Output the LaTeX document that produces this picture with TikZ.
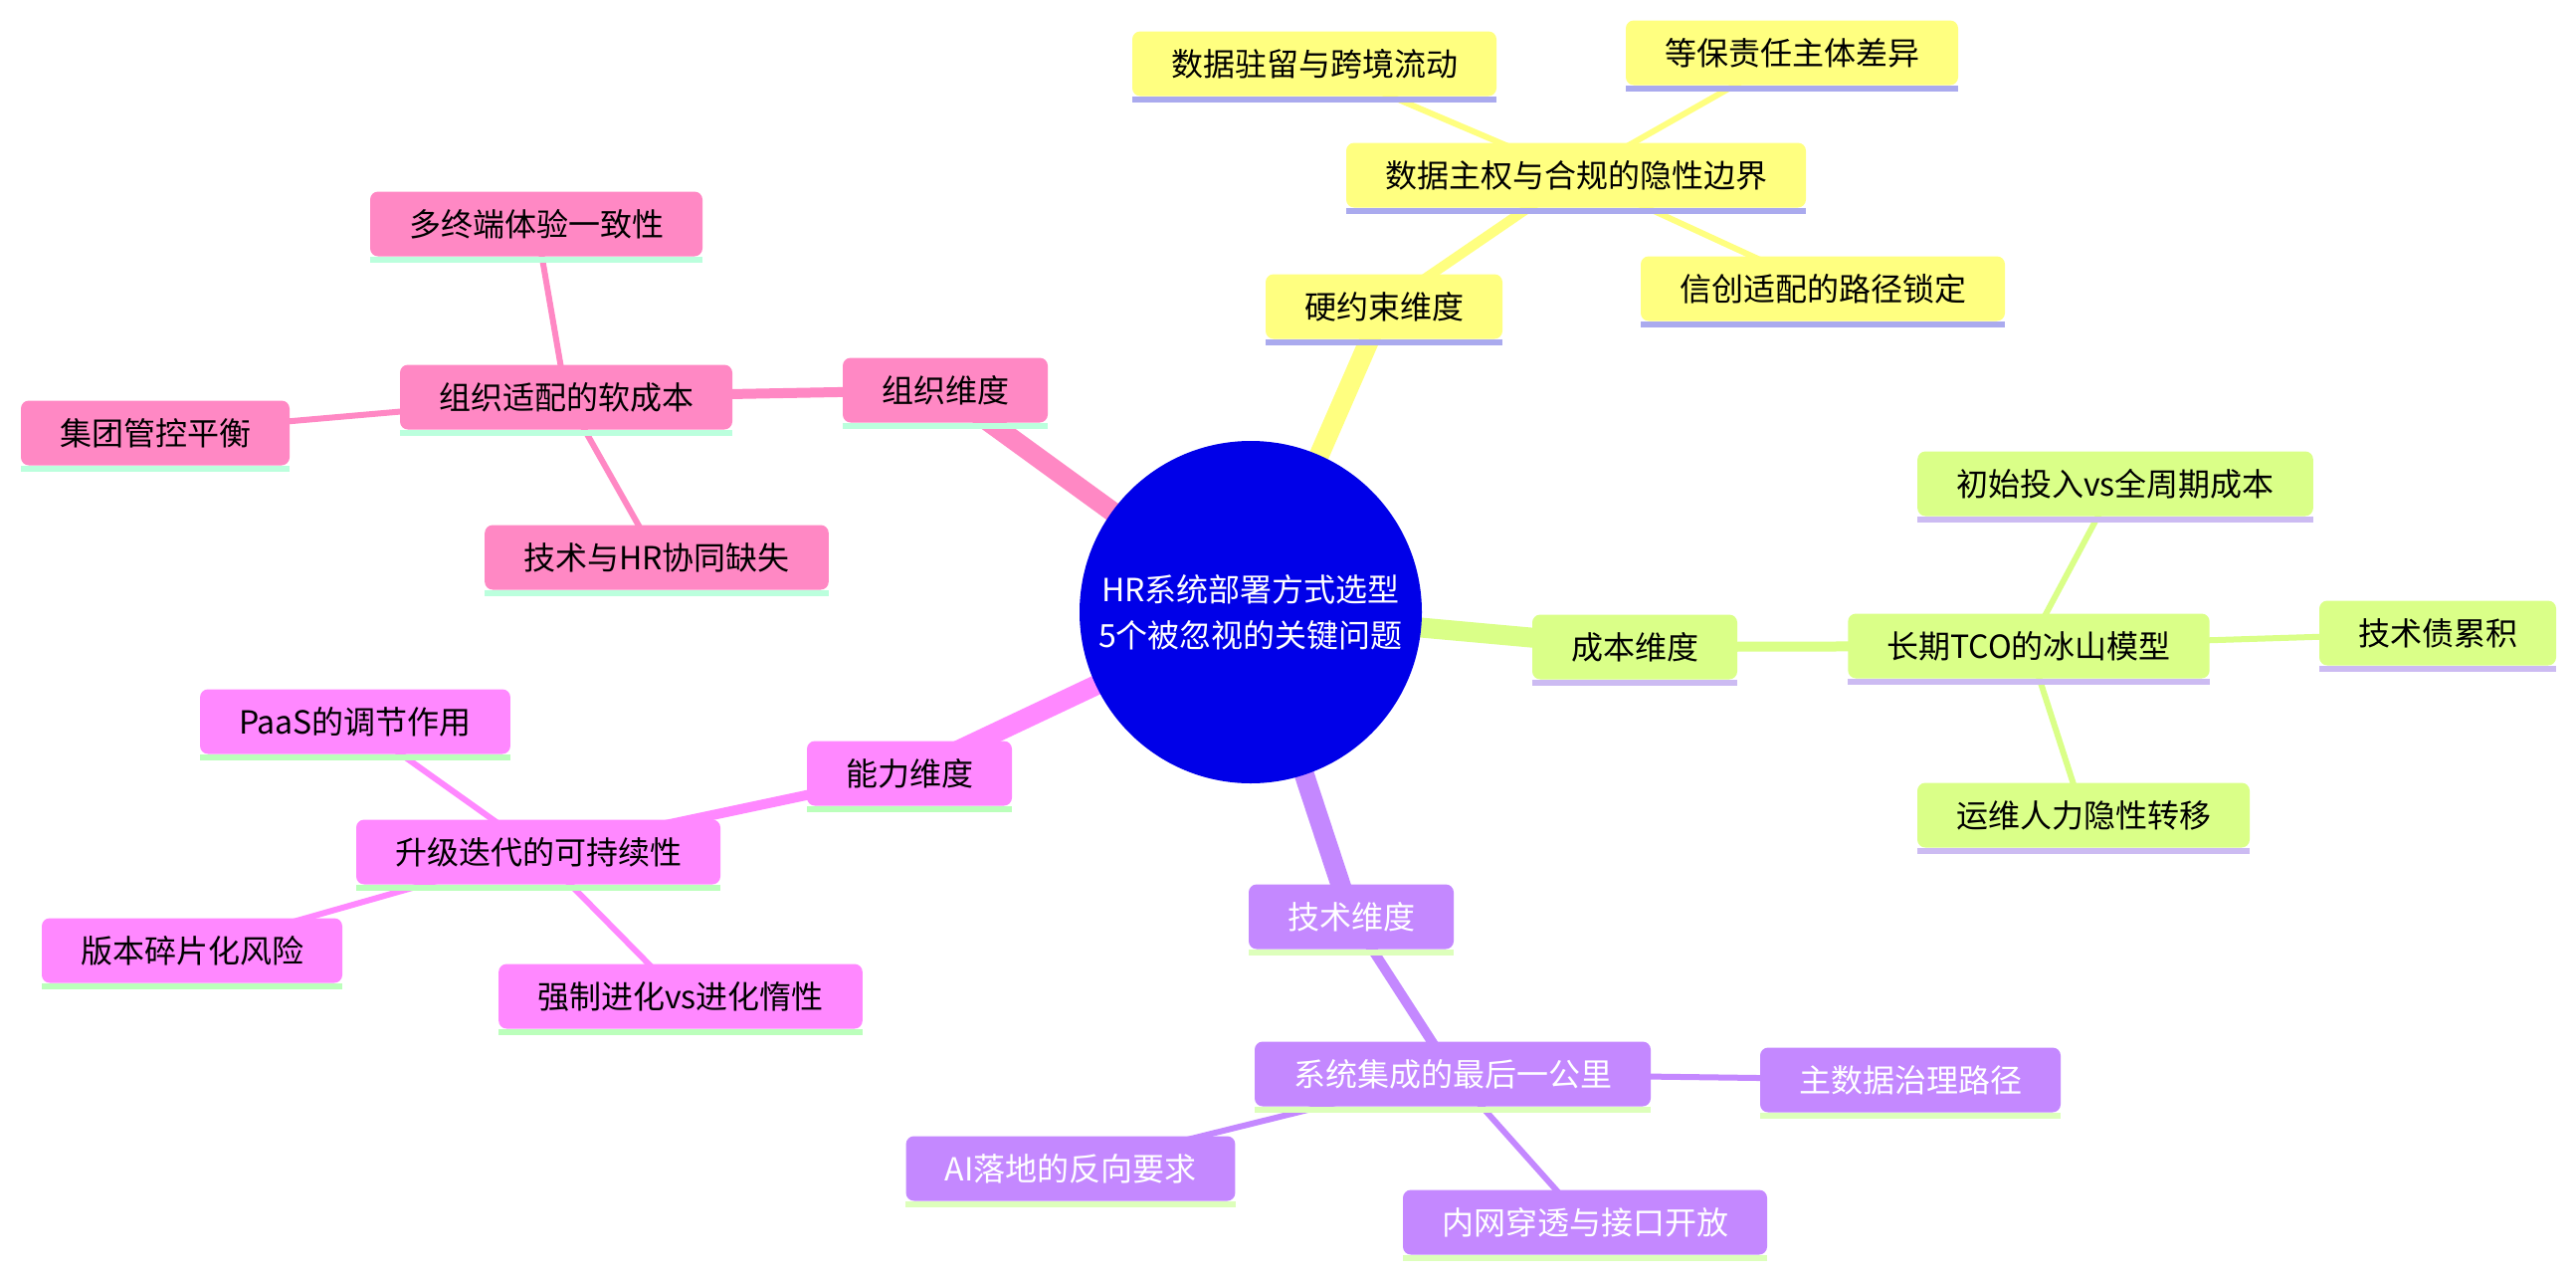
\documentclass[tikz,border=0pt]{standalone}
\usepackage{fontspec}
\setmainfont{Noto Sans CJK SC}

\definecolor{rootblue}{HTML}{0000E8}
\definecolor{yfill}{HTML}{FFFF80}
\definecolor{yband}{HTML}{AAAAEE}
\definecolor{gfill}{HTML}{DAFF88}
\definecolor{gband}{HTML}{CCBBF2}
\definecolor{pfill}{HTML}{C488FF}
\definecolor{pband}{HTML}{DDFFBB}
\definecolor{mfill}{HTML}{FF88FF}
\definecolor{mband}{HTML}{BBFFBB}
\definecolor{kfill}{HTML}{FF88C4}
\definecolor{kband}{HTML}{BBFFDD}

\pgfdeclarelayer{bg}
\pgfsetlayers{bg,main}

\begin{document}
\begin{tikzpicture}[
    x=1pt, y=-1pt,
    topic/.style={
        rectangle,
        rounded corners=8pt,
        minimum height=65pt,
        inner xsep=39pt,
        inner ysep=0pt,
        font=\fontsize{32}{38}\selectfont
    },
    edge0/.style={line width=20pt},
    edge1/.style={line width=10pt},
    edge2/.style={line width=6pt}
]

\node[
    circle,
    fill=rootblue,
    minimum size=344pt,
    inner sep=0pt,
    align=center,
    text=white,
    font=\fontsize{32}{46}\selectfont
] (root) at (1257,615) {HR系统部署方式选型\\5个被忽视的关键问题};

% hard constraints
\node[topic, fill=yfill] (hard) at (1391,308) {硬约束维度};
\node[topic, fill=yfill] (sov) at (1584,176) {数据主权与合规的隐性边界};
\node[topic, fill=yfill] (resid) at (1321,64) {数据驻留与跨境流动};
\node[topic, fill=yfill] (mlps) at (1801,53) {等保责任主体差异};
\node[topic, fill=yfill] (xc) at (1832,290) {信创适配的路径锁定};

% cost
\node[topic, fill=gfill] (cost) at (1643,650) {成本维度};
\node[topic, fill=gfill] (tco) at (2039,649) {长期TCO的冰山模型};
\node[topic, fill=gfill] (init) at (2126,486) {初始投入vs全周期成本};
\node[topic, fill=gfill] (debt) at (2450,636) {技术债累积};
\node[topic, fill=gfill] (ops) at (2094,819) {运维人力隐性转移};

% tech
\node[topic, fill=pfill, text=white] (tech) at (1358,921) {技术维度};
\node[topic, fill=pfill, text=white] (integ) at (1460,1079) {系统集成的最后一公里};
\node[topic, fill=pfill, text=white] (mdm) at (1920,1085) {主数据治理路径};
\node[topic, fill=pfill, text=white] (ai) at (1076,1174) {AI落地的反向要求};
\node[topic, fill=pfill, text=white] (intra) at (1593,1228) {内网穿透与接口开放};

% capability
\node[topic, fill=mfill] (cap) at (914,777) {能力维度};
\node[topic, fill=mfill] (upg) at (541,856) {升级迭代的可持续性};
\node[topic, fill=mfill] (paas) at (357,725) {PaaS的调节作用};
\node[topic, fill=mfill] (frag) at (193,955) {版本碎片化风险};
\node[topic, fill=mfill] (force) at (684,1001) {强制进化vs进化惰性};

% organisation
\node[topic, fill=kfill] (org) at (950,392) {组织维度};
\node[topic, fill=kfill] (soft) at (569,399) {组织适配的软成本};
\node[topic, fill=kfill] (multi) at (539,225) {多终端体验一致性};
\node[topic, fill=kfill] (group) at (156,435) {集团管控平衡};
\node[topic, fill=kfill] (collab) at (660,560) {技术与HR协同缺失};

% bottom bands
\foreach \n in {hard,sov,resid,mlps,xc}
    \fill[yband] (\n.south west) rectangle ([yshift=-6pt]\n.south east);
\foreach \n in {cost,tco,init,debt,ops}
    \fill[gband] (\n.south west) rectangle ([yshift=-6pt]\n.south east);
\foreach \n in {tech,integ,mdm,ai,intra}
    \fill[pband] (\n.south west) rectangle ([yshift=-6pt]\n.south east);
\foreach \n in {cap,upg,paas,frag,force}
    \fill[mband] (\n.south west) rectangle ([yshift=-6pt]\n.south east);
\foreach \n in {org,soft,multi,group,collab}
    \fill[kband] (\n.south west) rectangle ([yshift=-6pt]\n.south east);

\begin{pgfonlayer}{bg}
    \fill[white] (0,0) rectangle (2589,1283);
    \draw[edge0, yfill] (root.center) -- (hard.center);
    \draw[edge0, gfill] (root.center) -- (cost.center);
    \draw[edge0, pfill] (root.center) -- (tech.center);
    \draw[edge0, mfill] (root.center) -- (cap.center);
    \draw[edge0, kfill] (root.center) -- (org.center);
    \draw[edge1, yfill] (hard.center) -- (sov.center);
    \draw[edge1, gfill] (cost.center) -- (tco.center);
    \draw[edge1, pfill] (tech.center) -- (integ.center);
    \draw[edge1, mfill] (cap.center) -- (upg.center);
    \draw[edge1, kfill] (org.center) -- (soft.center);
    \foreach \n in {resid,mlps,xc} \draw[edge2, yfill] (sov.center) -- (\n.center);
    \foreach \n in {init,debt,ops} \draw[edge2, gfill] (tco.center) -- (\n.center);
    \foreach \n in {mdm,ai,intra} \draw[edge2, pfill] (integ.center) -- (\n.center);
    \foreach \n in {paas,frag,force} \draw[edge2, mfill] (upg.center) -- (\n.center);
    \foreach \n in {multi,group,collab} \draw[edge2, kfill] (soft.center) -- (\n.center);
\end{pgfonlayer}

\useasboundingbox (0,0) rectangle (2589,1283);
\end{tikzpicture}
\end{document}
